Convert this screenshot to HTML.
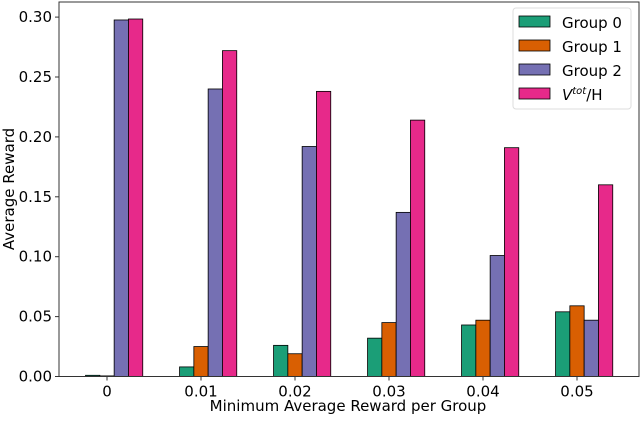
<!DOCTYPE html>
<html><head><meta charset="utf-8"><style>
body{margin:0;background:#fff;}
svg{font-family:"DejaVu Sans","Liberation Sans",sans-serif;}
</style></head><body>
<svg id="chart" width="640" height="416" viewBox="0 0 640 416" xmlns="http://www.w3.org/2000/svg">
<g id="bars"></g>
<g id="axes"></g>
<text x="348" y="411" font-size="15" text-anchor="middle">Minimum Average Reward per Group</text>
<text transform="translate(14,189) rotate(-90)" font-size="15" text-anchor="middle">Average Reward</text>
<g>
<rect x="513" y="8" width="118" height="101" rx="3" fill="#fff" stroke="#ddd"/>
<rect x="519" y="16" width="31" height="11" fill="#1b9e77" stroke="#000" stroke-width="0.8"/>
<text x="562" y="28" font-size="15">Group 0</text>
<rect x="519" y="40" width="31" height="11" fill="#d95f02" stroke="#000" stroke-width="0.8"/>
<text x="562" y="52" font-size="15">Group 1</text>
<rect x="519" y="64" width="31" height="11" fill="#7570b3" stroke="#000" stroke-width="0.8"/>
<text x="562" y="76" font-size="15">Group 2</text>
<rect x="519" y="88" width="31" height="11" fill="#e7298a" stroke="#000" stroke-width="0.8"/>
<text x="562" y="100" font-size="15"><tspan font-style="italic">V</tspan><tspan font-style="italic" font-size="10" dy="-6">tot</tspan><tspan dy="6">/H</tspan></text>
</g>
</svg>
<script>
const categories = ["0","0.01","0.02","0.03","0.04","0.05"];
const group0 = [0.001,0.008,0.026,0.032,0.043,0.054];
const group1 = [0.0005,0.025,0.019,0.045,0.047,0.059];
const group2 = [0.2976,0.240,0.192,0.137,0.101,0.047];
const vtot = [0.2984,0.272,0.238,0.214,0.191,0.160];
const yTicks = [0,0.05,0.10,0.15,0.20,0.25,0.30];
const yTickLabels = ["0.00","0.05","0.10","0.15","0.20","0.25","0.30"];
const series = [group0,group1,group2,vtot];
const seriesNames = ["group-0","group-1","group-2","vtot"];
const colors = ["#1b9e77","#d95f02","#7570b3","#e7298a"];
const NS="http://www.w3.org/2000/svg";
const L=59,R=639,T=2,B=376.5;
const xPos=i=>107+i*94;
const yPos=v=>B-v*1198;
const bw=14.3;
const bars=document.getElementById('bars');
series.forEach((s,si)=>{
  s.forEach((v,i)=>{
    const r=document.createElementNS(NS,'rect');
    const cx=xPos(i)+(si-1)*bw;
    r.setAttribute('x',cx-bw/2);
    r.setAttribute('y',yPos(v));
    r.setAttribute('width',bw);
    r.setAttribute('height',B-yPos(v));
    r.setAttribute('fill',colors[si]);
    r.setAttribute('stroke','#000');
    r.setAttribute('stroke-width','0.8');
    
    
    bars.appendChild(r);
  });
});
const axes=document.getElementById('axes');
const frame=document.createElementNS(NS,'rect');
frame.setAttribute('x',L);frame.setAttribute('y',T);frame.setAttribute('width',R-L);frame.setAttribute('height',B-T);
frame.setAttribute('fill','none');frame.setAttribute('stroke','#333');frame.setAttribute('stroke-width','1');


axes.appendChild(frame);
yTicks.forEach((t,i)=>{
  const y=yPos(t);
  const ln=document.createElementNS(NS,'line');
  ln.setAttribute('x1',L-4);ln.setAttribute('x2',L);ln.setAttribute('y1',y);ln.setAttribute('y2',y);ln.setAttribute('stroke','#333');
  
  
  axes.appendChild(ln);
  const tx=document.createElementNS(NS,'text');
  tx.setAttribute('x',L-7);tx.setAttribute('y',y+5);tx.setAttribute('font-size','15');tx.setAttribute('text-anchor','end');
  tx.textContent=yTickLabels[i];
  
  
  axes.appendChild(tx);
});
categories.forEach((c,i)=>{
  const x=xPos(i);
  const ln=document.createElementNS(NS,'line');
  ln.setAttribute('x1',x);ln.setAttribute('x2',x);ln.setAttribute('y1',B);ln.setAttribute('y2',B+4);ln.setAttribute('stroke','#333');
  
  
  axes.appendChild(ln);
  const tx=document.createElementNS(NS,'text');
  tx.setAttribute('x',x);tx.setAttribute('y',B+20);tx.setAttribute('font-size','15');tx.setAttribute('text-anchor','middle');
  tx.textContent=c;
  
  
  axes.appendChild(tx);
});
</script>
</body></html>
